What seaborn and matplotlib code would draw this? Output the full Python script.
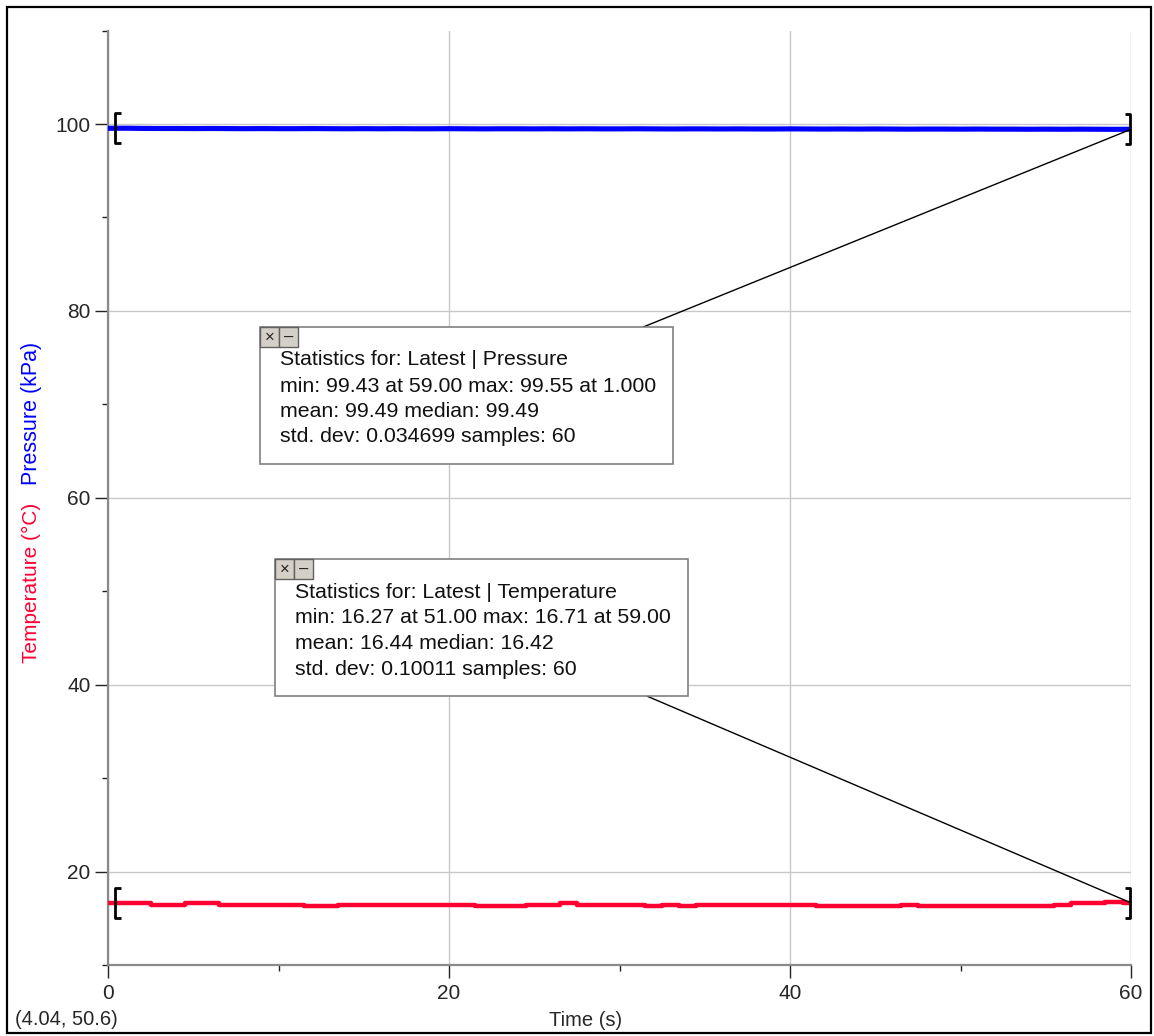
import matplotlib
matplotlib.use("Agg")
import matplotlib.pyplot as plt
from matplotlib.patches import Rectangle
from matplotlib.ticker import MultipleLocator
import seaborn as sns
import numpy as np
import pandas as pd

# data (1 s samples)
time = list(range(0, 61))
pressure = [99.54, 99.55, 99.53, 99.52, 99.52, 99.51, 99.52, 99.51, 99.50, 99.51,
            99.50, 99.50, 99.51, 99.50, 99.49, 99.50, 99.49, 99.50, 99.49, 99.49,
            99.50, 99.49, 99.48, 99.49, 99.49, 99.48, 99.49, 99.48, 99.49, 99.48,
            99.48, 99.49, 99.48, 99.47, 99.48, 99.48, 99.47, 99.48, 99.47, 99.47,
            99.48, 99.47, 99.46, 99.47, 99.46, 99.47, 99.46, 99.45, 99.46, 99.46,
            99.45, 99.46, 99.45, 99.45, 99.44, 99.45, 99.44, 99.45, 99.44, 99.43,
            99.44]
temperature = [16.63, 16.63, 16.63, 16.42, 16.42, 16.65, 16.65, 16.42, 16.42, 16.42,
               16.42, 16.42, 16.27, 16.27, 16.42, 16.42, 16.42, 16.42, 16.42, 16.42,
               16.42, 16.42, 16.27, 16.27, 16.27, 16.42, 16.42, 16.63, 16.42, 16.42,
               16.42, 16.42, 16.27, 16.42, 16.27, 16.42, 16.42, 16.42, 16.42, 16.42,
               16.42, 16.42, 16.33, 16.33, 16.33, 16.33, 16.33, 16.42, 16.29, 16.29,
               16.29, 16.27, 16.29, 16.29, 16.29, 16.29, 16.45, 16.65, 16.65, 16.71,
               16.65]

pressure_stats = ["Statistics for: Latest | Pressure",
                  "min: 99.43 at 59.00 max: 99.55 at 1.000",
                  "mean: 99.49 median: 99.49",
                  "std. dev: 0.034699 samples: 60"]
temperature_stats = ["Statistics for: Latest | Temperature",
                     "min: 16.27 at 51.00 max: 16.71 at 59.00",
                     "mean: 16.44 median: 16.42",
                     "std. dev: 0.10011 samples: 60"]

df = pd.DataFrame({"time": time, "pressure": pressure, "temperature": temperature})

sns.set_style("white")
plt.rcParams["font.family"] = ["Liberation Sans", "DejaVu Sans"]

BLUE = "#0000ff"
RED = "#ff0033"
GRID = "#c8c8c8"
SPINE = "#8a8a8a"

fig = plt.figure(figsize=(11.54, 10.36), dpi=100)
ax = fig.add_axes([0.0936, 0.0685, 0.8865, 0.902])

sns.lineplot(data=df, x="time", y="pressure", ax=ax, color=BLUE, lw=3.7,
             zorder=3)
sns.lineplot(data=df, x="time", y="temperature", ax=ax, color=RED, lw=3.2,
             drawstyle="steps-mid", zorder=3)

ax.set_xlim(0, 60)
ax.set_ylim(10, 110)
ax.xaxis.set_major_locator(MultipleLocator(20))
ax.xaxis.set_minor_locator(MultipleLocator(10))
ax.yaxis.set_major_locator(MultipleLocator(20))
ax.yaxis.set_minor_locator(MultipleLocator(20, offset=10))
ax.grid(True, which="major", color=GRID, lw=1.0)
ax.set_axisbelow(True)
sns.despine(ax=ax)
for s in ["left", "bottom"]:
    ax.spines[s].set_color(SPINE)
    ax.spines[s].set_linewidth(1.6)
ax.tick_params(which="both", left=True, bottom=True, direction="out")
ax.tick_params(which="major", length=9.5, width=1.0, color="#222222",
               labelsize=15, pad=3)
ax.tick_params(which="minor", length=4, width=1.0, color="#222222")
ax.tick_params(axis="x", which="major", pad=4)
ax.set_xlabel("")
ax.set_ylabel("")

# selection brackets at both ends of each run
left_br = [(0.86, 1), (0.5, 1), (0.5, -1), (0.86, -1)]
right_br = [(-0.4, 1), (-0.05, 1), (-0.05, -1), (-0.4, -1)]
for series in [pressure, temperature]:
    ax.plot(time[0], series[0], marker=left_br, ms=21, mfc="none", mec="black",
            mew=2.0, zorder=6, clip_on=False)
    ax.plot(time[-1], series[-1], marker=right_br, ms=21, mfc="none", mec="black",
            mew=2.0, zorder=6, clip_on=False)

# statistics boxes with leader lines
def stats_box(x0, y0, x1, y1, lines, tx, baselines, anchor, target):
    ax.annotate("", xy=target, xycoords="data", xytext=anchor,
                textcoords="axes fraction",
                arrowprops=dict(arrowstyle="-", color="black", lw=1.0,
                                shrinkA=0, shrinkB=0), zorder=4)
    ax.add_patch(Rectangle((x0, y0), x1 - x0, y1 - y0, transform=ax.transAxes,
                           facecolor="white", edgecolor="#808080", lw=1.2,
                           zorder=5))
    bw, bh = 0.0186, 0.0214
    for i, sym in enumerate(["×", "–"]):
        bx = x0 + i * bw
        ax.add_patch(Rectangle((bx, y1 - bh), bw, bh, transform=ax.transAxes,
                               facecolor="#d4d0c8", edgecolor="#606060", lw=1.0,
                               zorder=6))
        ax.text(bx + bw / 2, y1 - bh / 2, sym, transform=ax.transAxes,
                ha="center", va="center", fontsize=12, color="#222222", zorder=7)
    for line, by in zip(lines, baselines):
        ax.text(tx, by, line, transform=ax.transAxes, ha="left", va="baseline",
                fontsize=15.3, color="#111111", zorder=7)

stats_box(0.1486, 0.5358, 0.5523, 0.6827, pressure_stats, 0.1681,
          [0.6417, 0.6128, 0.5861, 0.5594], (0.523, 0.6827),
          (time[-1], pressure[-1]))
stats_box(0.1632, 0.2877, 0.5670, 0.4342, temperature_stats, 0.1828,
          [0.3925, 0.3658, 0.3380, 0.3102], (0.527, 0.2877),
          (time[-1], temperature[-1]))

# two-colour y label, x label and cursor readout
fig.text(0.0269, 0.360, "Temperature (°C)", rotation=90, ha="center",
         va="bottom", color=RED, fontsize=15)
fig.text(0.0269, 0.532, "Pressure (kPa)", rotation=90, ha="center",
         va="bottom", color=BLUE, fontsize=15.5)
fig.text(0.507, 0.0145, "Time (s)", ha="center", va="center", fontsize=14.5)
fig.text(0.013, 0.0155, "(4.04, 50.6)", ha="left", va="center", fontsize=14.5)

# window frame
fig.patches.append(Rectangle((0.006, 0.003), 0.991, 0.990,
                             transform=fig.transFigure, fill=False,
                             edgecolor="black", lw=1.6))

fig.savefig("out.png", dpi=100)
